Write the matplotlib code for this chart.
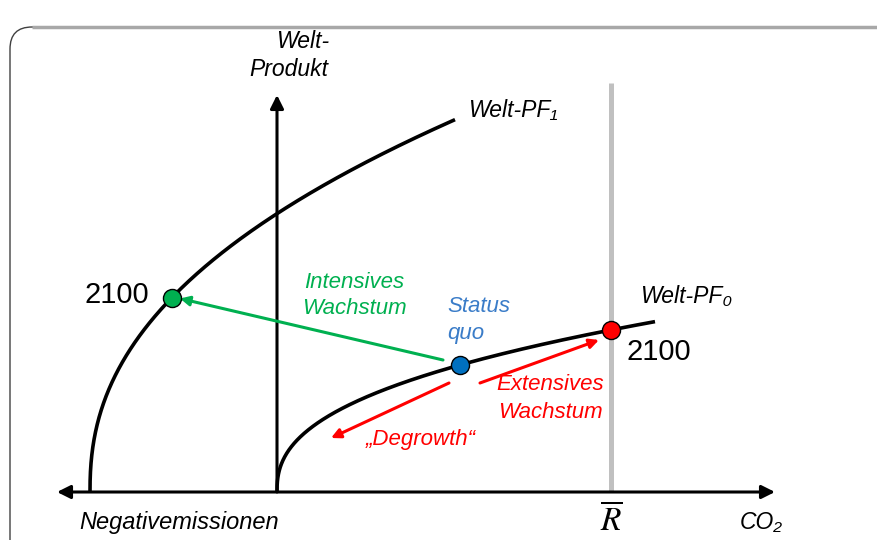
import numpy as np
import matplotlib
matplotlib.use("Agg")
import matplotlib.pyplot as plt
from matplotlib.patches import FancyBboxPatch

plt.rcParams['font.family'] = ['Liberation Sans', 'DejaVu Sans']

# --- conceptual model (units: arbitrary, origin at axis crossing) ---
pf0_scale, pf0_exp, pf0_start, pf0_end = 15.4, 0.405, 0.0, 378.0
pf1_scale, pf1_exp, pf1_start, pf1_end = 28.6, 0.435, -187.0, 178.0
status_quo_x = 183.0
r_bar_x = 334.0
green_2100_x = -105.0
x_axis_range = [-220, 498]
y_axis_top = 397

def pf0(x):
    return pf0_scale * np.power(np.maximum(x - pf0_start, 0), pf0_exp)

def pf1(x):
    return pf1_scale * np.power(np.maximum(x - pf1_start, 0), pf1_exp)

fig = plt.figure(figsize=(8.78, 5.40), dpi=100)
ax = fig.add_axes([0, 0, 1, 1])
ax.set_xlim(-277, 601)
ax.set_ylim(-48, 492)
ax.axis('off')

# frame
box = FancyBboxPatch((-267, -80), 900, 545, boxstyle="round,pad=0,rounding_size=22",
                     facecolor='none', edgecolor='#404040', lw=1.0, zorder=0)
ax.add_patch(box)
ax.plot([-245, 601], [465, 465], color='#a8a8a8', lw=2.5, zorder=0.5, solid_capstyle='butt')

# R-bar vertical line
ax.plot([r_bar_x, r_bar_x], [0, 409], color='#c0c0c0', lw=3.6, zorder=1, solid_capstyle='butt')

# axes
ax.annotate('', xy=(x_axis_range[1], 0), xytext=(x_axis_range[0], 0),
            arrowprops=dict(arrowstyle='<|-|>', color='black', lw=2.2,
                            mutation_scale=20, shrinkA=0, shrinkB=0), zorder=2)
ax.annotate('', xy=(0, y_axis_top), xytext=(0, 0),
            arrowprops=dict(arrowstyle='-|>', color='black', lw=2.2,
                            mutation_scale=20, shrinkA=0, shrinkB=0), zorder=2)

# production functions
x0 = pf0_start + (pf0_end - pf0_start) * np.linspace(0, 1, 400) ** 2
ax.plot(x0, pf0(x0), color='black', lw=2.6, zorder=3, solid_capstyle='butt')
x1 = pf1_start + (pf1_end - pf1_start) * np.linspace(0, 1, 400) ** 2
ax.plot(x1, pf1(x1), color='black', lw=2.6, zorder=3, solid_capstyle='butt')

# arrows
sq = (status_quo_x, pf0(status_quo_x))
g = (green_2100_x, pf1(green_2100_x))
r = (r_bar_x, pf0(r_bar_x))
ax.annotate('', xy=(g[0] + 8, g[1] - 1), xytext=(sq[0] - 17, sq[1] + 5),
            arrowprops=dict(arrowstyle='-|>', color='#00b050', lw=2.2,
                            mutation_scale=14, shrinkA=0, shrinkB=0), zorder=4)
ax.annotate('', xy=(r[0] - 12, r[1] - 10), xytext=(sq[0] + 20, sq[1] - 18),
            arrowprops=dict(arrowstyle='-|>', color='#ff0000', lw=2.2,
                            mutation_scale=14, shrinkA=0, shrinkB=0), zorder=4)
ax.annotate('', xy=(54, 54), xytext=(sq[0] - 11, sq[1] - 18),
            arrowprops=dict(arrowstyle='-|>', color='#ff0000', lw=2.2,
                            mutation_scale=14, shrinkA=0, shrinkB=0), zorder=4)

# points
ax.plot(*g, 'o', ms=13, mfc='#00b050', mec='black', mew=1, zorder=5)
ax.plot(*sq, 'o', ms=13, mfc='#0070c0', mec='black', mew=1, zorder=5)
ax.plot(*r, 'o', ms=13, mfc='#ff0000', mec='black', mew=1, zorder=5)

# texts
ax.text(26, 450, 'Welt-', ha='center', va='center', fontsize=16.5, style='italic')
ax.text(12, 422, 'Produkt', ha='center', va='center', fontsize=16.5, style='italic')
ax.text(191, 382, 'Welt-PF\u2081', ha='left', va='center', fontsize=16.5, style='italic')
ax.text(363, 195, 'Welt-PF\u2080', ha='left', va='center', fontsize=16.5, style='italic')
ax.text(-192, 197, '2100', ha='left', va='center', fontsize=21)
ax.text(350, 140, '2100', ha='left', va='center', fontsize=21)
ax.text(77, 210, 'Intensives', ha='center', va='center', fontsize=16, style='italic', color='#00b050')
ax.text(77, 183, 'Wachstum', ha='center', va='center', fontsize=16, style='italic', color='#00b050')
ax.text(170, 185, 'Status', ha='left', va='center', fontsize=16, style='italic', color='#3a7cc8')
ax.text(170, 158, 'quo', ha='left', va='center', fontsize=16, style='italic', color='#3a7cc8')
ax.text(273, 107, 'Extensives', ha='center', va='center', fontsize=16, style='italic', color='#ff0000')
ax.text(273, 80, 'Wachstum', ha='center', va='center', fontsize=16, style='italic', color='#ff0000')
ax.text(144, 52, '\u201eDegrowth\u201c', ha='center', va='center', fontsize=16, style='italic', color='#ff0000')
ax.text(-198, -30, 'Negativemissionen', ha='left', va='center', fontsize=17, style='italic')
ax.text(463, -30, 'CO\u2082', ha='left', va='center', fontsize=16.5, style='italic')
ax.text(r_bar_x, -28, r'$\overline{R}$', ha='center', va='center', fontsize=24,
        math_fontfamily='stix')

fig.savefig('out.png', dpi=100)
